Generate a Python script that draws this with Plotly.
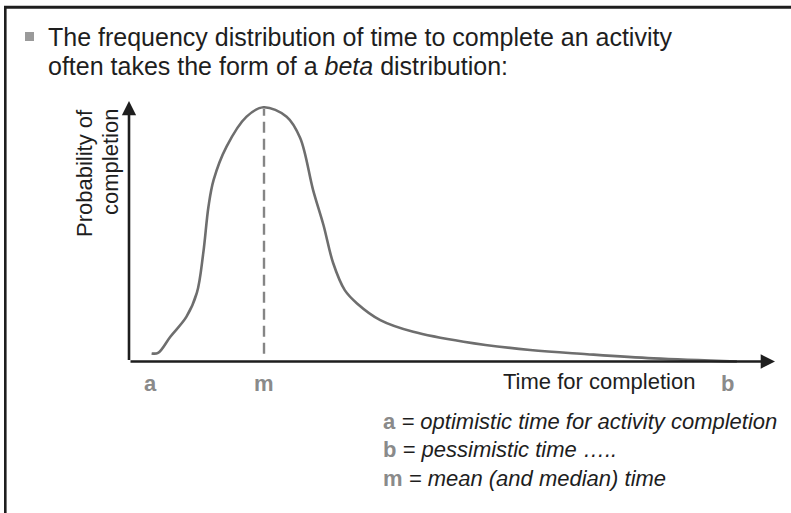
import plotly.graph_objects as go

# Beta-shaped completion-time curve (time units 0-100, relative probability 0-100)
time_pts = [3.5, 4.5, 6.4, 8.9, 10.5, 11.5, 12.3, 13.1, 15.1, 18.2, 20.8, 24.4,
            26.5, 28.5, 30.1, 31.6, 33.4, 35.3, 38.9, 44.0, 51.8, 62.1, 70.9,
            81.2, 94.1]
prob_pts = [3.1, 3.3, 9.5, 17.2, 26.3, 41.7, 59.4, 69.7, 82.5, 94.0, 97.6, 94.0,
            85.8, 65.8, 52.4, 37.8, 27.4, 22.3, 15.9, 11.4, 7.6, 4.4, 2.8,
            1.2, 0.0]

# Key times marked under the axis
point_names = ["a", "m", "b"]
point_times = [3.3, 20.9, 92.6]
mode_time = 20.9
mode_line = [3.0, 97.0]

title_lines = ["The frequency distribution of time to complete an activity",
               "often takes the form of a <i>beta</i> distribution:"]
y_title = ["Probability of", "completion"]
x_title = "Time for completion"
key_items = [("a", "optimistic time for activity completion"),
             ("b", "pessimistic time \u2026.."),
             ("m", "mean (and median) time")]

W, H = 791, 513
# pixel geometry of the axes
X0_PX, X1_PX = 129, 775   # time 0 and time 100
Y0_PX, Y1_PX = 361.5, 101  # prob 0 and prob 100
sx = (X1_PX - X0_PX) / 100.0
sy = (Y0_PX - Y1_PX) / 100.0
x_range = [(0 - X0_PX) / sx, (W - X0_PX) / sx]
y_range = [(Y0_PX - H) / sy, (Y0_PX - 0) / sy]


def px(x):
    return x / W


def py(y):
    return 1 - y / H


FONT = "Liberation Sans, Arial, Helvetica, sans-serif"
DARK = "#1e1e1e"
GREY = "#8a8a8a"

fig = go.Figure()

fig.add_trace(go.Scatter(
    x=time_pts, y=prob_pts, mode="lines",
    line=dict(color="#6e6e6e", width=2.6, shape="spline", smoothing=1.0),
    hoverinfo="skip", showlegend=False))

fig.add_trace(go.Scatter(
    x=[mode_time, mode_time], y=mode_line, mode="lines",
    line=dict(color="#858585", width=2.4, dash="11px,6px"),
    hoverinfo="skip", showlegend=False))

annotations = []
# axes drawn as arrows
annotations.append(dict(x=100, y=0, ax=0, ay=0, xref="x", yref="y", axref="x", ayref="y",
                        text="", showarrow=True, arrowhead=2, arrowsize=1.1,
                        arrowwidth=2.6, arrowcolor=DARK))
annotations.append(dict(x=0, y=100, ax=0, ay=0, xref="x", yref="y", axref="x", ayref="y",
                        text="", showarrow=True, arrowhead=2, arrowsize=1.1,
                        arrowwidth=2.6, arrowcolor=DARK))

# title text
for i, line in enumerate(title_lines):
    annotations.append(dict(x=px(46), y=py(37 + i * 29), xref="paper", yref="paper",
                            xanchor="left", yanchor="middle", showarrow=False,
                            text=line, font=dict(family=FONT, size=25, color=DARK)))

# y-axis title, two rotated lines aligned at the top
for cx, line in zip([85, 111], y_title):
    annotations.append(dict(x=px(cx), y=py(107), xref="paper", yref="paper",
                            xanchor="center", yanchor="top", textangle=-90,
                            showarrow=False, text=line,
                            font=dict(family=FONT, size=22, color=DARK)))

# x-axis title
annotations.append(dict(x=px(501), y=py(381), xref="paper", yref="paper",
                        xanchor="left", yanchor="middle", showarrow=False,
                        text=x_title, font=dict(family=FONT, size=22, color=DARK)))

# a, m, b markers under the axis
for name, t in zip(point_names, point_times):
    annotations.append(dict(x=t, y=py(383), xref="x", yref="paper",
                            xanchor="center", yanchor="middle", showarrow=False,
                            text=f"<b>{name}</b>",
                            font=dict(family=FONT, size=22, color=GREY)))

# key
for i, (name, desc) in enumerate(key_items):
    annotations.append(dict(x=px(381), y=py(421 + i * 28.5), xref="paper", yref="paper",
                            xanchor="left", yanchor="middle", showarrow=False,
                            text=f"<span style='color:{GREY}'><b>{name}</b></span> <i>= {desc}</i>",
                            font=dict(family=FONT, size=22, color=DARK)))

shapes = [
    # frame
    dict(type="line", xref="paper", yref="paper", x0=px(4), x1=px(W + 2),
         y0=py(7.3), y1=py(7.3), line=dict(color=DARK, width=3)),
    dict(type="line", xref="paper", yref="paper", x0=px(5.3), x1=px(5.3),
         y0=py(6), y1=py(H + 2), line=dict(color=DARK, width=2.6)),
    # bullet square
    dict(type="rect", xref="paper", yref="paper", x0=px(25), x1=px(34),
         y0=py(32), y1=py(41), fillcolor="#9a9a9a", line=dict(width=0)),
]

fig.update_layout(
    width=W, height=H, margin=dict(l=0, r=0, t=0, b=0),
    paper_bgcolor="white", plot_bgcolor="white",
    xaxis=dict(range=x_range, visible=False, fixedrange=True),
    yaxis=dict(range=y_range, visible=False, fixedrange=True),
    annotations=annotations, shapes=shapes, showlegend=False,
)

fig.write_html("out.html")
